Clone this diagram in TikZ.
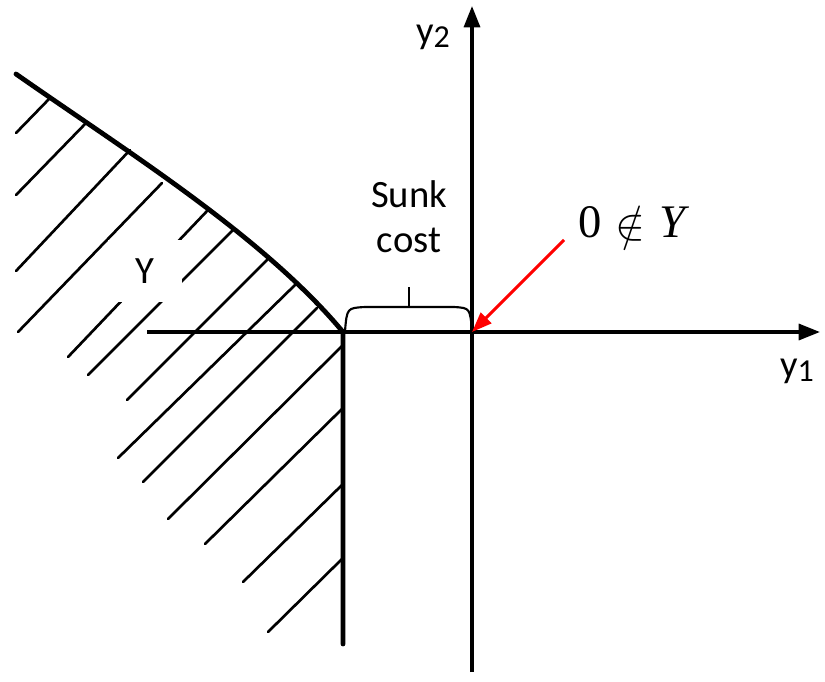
\documentclass[tikz,border=0pt]{standalone}
\usepackage{fontspec}
\setmainfont{Carlito}
\newfontfamily\timesf{Liberation Serif}
\usetikzlibrary{arrows.meta}
\begin{document}
\begin{tikzpicture}[x=0.75pt,y=-0.75pt,
  axis/.style={line width=2.5pt,-{Triangle[length=16pt,width=12pt]}},
  bound/.style={line width=3.6pt,line cap=round,line join=round},
  hatch/.style={line width=2pt,line cap=round},
  lbl/.style={font=\fontsize{29}{34}\selectfont,inner sep=0pt},
  redarrow/.style={red,line width=2.3pt,-{Triangle[length=15pt,width=11pt]}},
  bracket/.style={line width=1.6pt,line join=round}]
\useasboundingbox (0,0) rectangle (825,682);
% coordinates
\coordinate (O) at (472,332);
\coordinate (xs) at (147,332);
\coordinate (xe) at (820,332);
\coordinate (ys) at (472,672);
\coordinate (ye) at (472,6);
\coordinate (K) at (343,332);
\coordinate (Kb) at (343,644);
\coordinate (C0) at (16,74);
% hatch lines
\draw[hatch] (16,133) -- (50,98);
\draw[hatch] (16,195) -- (87,122);
\draw[hatch] (16,271) -- (130,150);
\draw[hatch] (18,332) -- (162,183);
\draw[hatch] (68,357) -- (208,210);
\draw[hatch] (88,375) -- (233,230);
\draw[hatch] (127,400) -- (267,260);
\draw[hatch] (118,458) -- (295,285);
\draw[hatch] (143,482) -- (317,308);
\draw[hatch] (168,519) -- (343,345);
\draw[hatch] (205,544) -- (343,408);
\draw[hatch] (243,582) -- (343,484);
\draw[hatch] (268,632) -- (343,558);
% label Y covering hatch
\node[lbl,fill=white,minimum width=55pt,minimum height=46pt] (Ylab) at (145,271) {Y};
% axes
\draw[axis] (xs) -- (xe);
\draw[axis] (ys) -- (ye);
% boundary
\draw[bound] (C0) .. controls (126,151) and (263,236) .. (K) -- (Kb);
% bracket
\draw[bracket] (345,331) .. controls (347,308) .. (365,307) -- (454,307) .. controls (470,308) .. (472,331);
\coordinate (bm) at (409,307);
\draw[bracket] (bm) -- ++(0,-20);
% labels
\node[lbl,align=center] (sunk) at (409,217) {Sunk\\cost};
\node[lbl] (y2) at (433,37) {y\raisebox{-0.12em}{\fontsize{24}{28}\selectfont 2}};
\node[lbl] (y1) at (797,371) {y\raisebox{-0.12em}{\fontsize{24}{28}\selectfont 1}};
\node[inner sep=0pt,font=\timesf\fontsize{35}{40}\selectfont] (notin) at (634,224) {0\hspace{0.3em}\raisebox{-0.05em}{\scalebox{1.35}{$\notin$}}\hspace{0.3em}\textit{Y}};
\coordinate (rs) at (564,240);
\draw[redarrow] (rs) -- (O);
\end{tikzpicture}
\end{document}
